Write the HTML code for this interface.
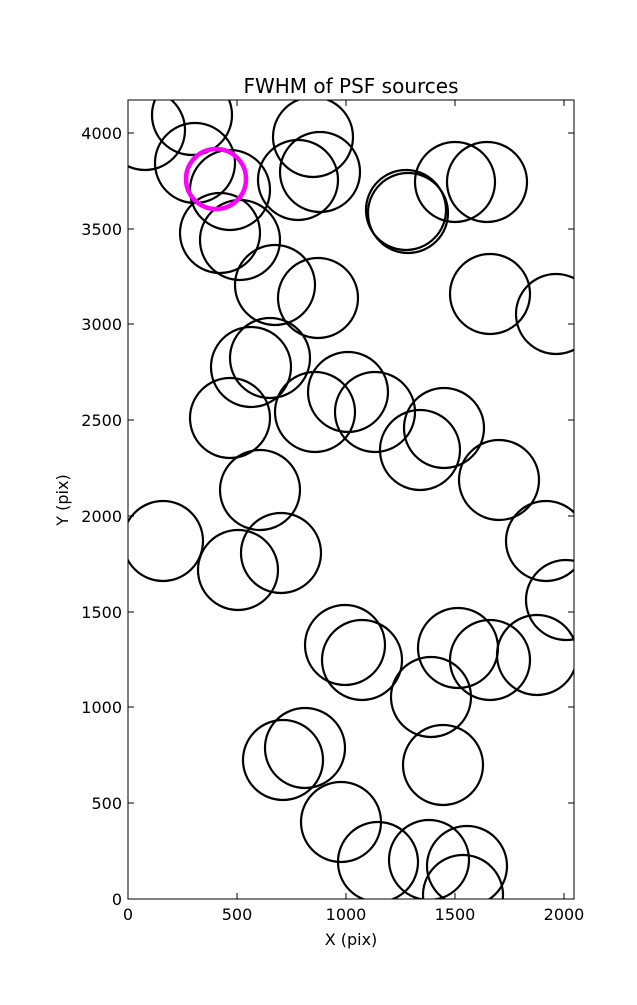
<!DOCTYPE html>
<html><head><style>body{margin:0;background:#fff}</style></head><body>
<svg width="637" height="1000" xmlns="http://www.w3.org/2000/svg" font-family="DejaVu Sans, sans-serif">
<rect width="637" height="1000" fill="#fff"/>
<defs><clipPath id="c"><rect x="128" y="100" width="446" height="799"/></clipPath></defs>
<g clip-path="url(#c)" fill="none" stroke="#000" stroke-width="2.2">
<circle cx="145" cy="130" r="40"/><circle cx="192" cy="115" r="40"/><circle cx="195" cy="163" r="40"/>
<circle cx="230" cy="190" r="40"/><circle cx="220" cy="233" r="40"/><circle cx="240" cy="240" r="40"/>
<circle cx="313" cy="137" r="40"/><circle cx="298" cy="180" r="40"/><circle cx="320" cy="172" r="40"/>
<circle cx="408" cy="213" r="40"/><circle cx="406" cy="210" r="40"/>
<circle cx="455" cy="182" r="40"/><circle cx="487" cy="182" r="40"/>
<circle cx="275" cy="285" r="40"/><circle cx="318" cy="298" r="40"/>
<circle cx="490" cy="294" r="40"/><circle cx="556" cy="314" r="40"/>
<circle cx="251" cy="367" r="40"/><circle cx="270" cy="358" r="40"/>
<circle cx="230" cy="418" r="40"/><circle cx="315" cy="412" r="40"/><circle cx="348" cy="392" r="40"/><circle cx="375" cy="412" r="40"/>
<circle cx="444" cy="428" r="40"/><circle cx="420" cy="450" r="40"/><circle cx="499" cy="480" r="40"/>
<circle cx="260" cy="490" r="40"/>
<circle cx="163" cy="541" r="40"/><circle cx="281" cy="553" r="40"/><circle cx="238" cy="570" r="40"/>
<circle cx="546" cy="541" r="40"/><circle cx="566" cy="600" r="40"/>
<circle cx="345" cy="645" r="40"/><circle cx="362" cy="660" r="40"/>
<circle cx="458" cy="648" r="40"/><circle cx="490" cy="660" r="40"/><circle cx="537" cy="655" r="40"/>
<circle cx="431" cy="697" r="40"/><circle cx="443" cy="765" r="40"/>
<circle cx="305" cy="748" r="40"/><circle cx="283" cy="760" r="40"/>
<circle cx="341" cy="822" r="40"/><circle cx="378" cy="862" r="40"/>
<circle cx="429" cy="860" r="40"/><circle cx="467" cy="866" r="40"/><circle cx="463" cy="895" r="40"/>
<circle cx="216" cy="179" r="30" stroke="#f0f" stroke-width="4.5"/>
</g>
<rect x="128" y="100" width="446" height="799" fill="none" stroke="#000" stroke-width="1"/>
<g stroke="#000" stroke-width="1">
<path d="M237 899v-6M346 899v-6M455 899v-6M564 899v-6M237 100v6M346 100v6M455 100v6M564 100v6"/>
<path d="M128 803h6M128 707h6M128 612h6M128 516h6M128 420h6M128 324h6M128 229h6M128 133h6M574 803h-6M574 707h-6M574 612h-6M574 516h-6M574 420h-6M574 324h-6M574 229h-6M574 133h-6"/>
</g>
<g font-size="16" text-anchor="middle">
<text x="128" y="920">0</text><text x="237" y="920">500</text><text x="346" y="920">1000</text><text x="455" y="920">1500</text><text x="564" y="920">2000</text>
</g>
<g font-size="16" text-anchor="end">
<text x="122" y="905">0</text><text x="122" y="809">500</text><text x="122" y="713">1000</text><text x="122" y="618">1500</text><text x="122" y="522">2000</text><text x="122" y="426">2500</text><text x="122" y="330">3000</text><text x="122" y="235">3500</text><text x="122" y="139">4000</text>
</g>
<text x="351" y="945" font-size="16" text-anchor="middle">X (pix)</text>
<text x="68" y="500" font-size="16" text-anchor="middle" transform="rotate(-90 68 500)">Y (pix)</text>
<text x="351" y="93" font-size="20" text-anchor="middle">FWHM of PSF sources</text>
</svg>
</body></html>
